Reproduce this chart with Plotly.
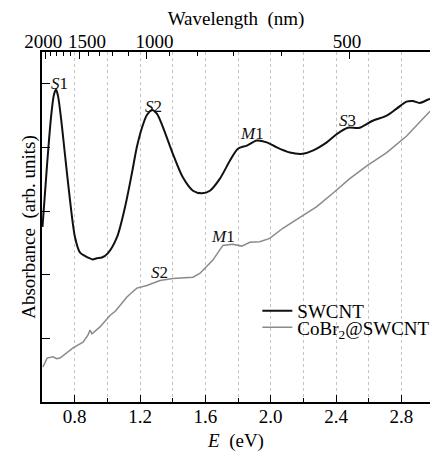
import plotly.graph_objects as go

# SWCNT (black) absorbance vs photon energy (eV)
swcnt_E = [0.603, 0.631, 0.655, 0.673, 0.686, 0.698, 0.716, 0.741, 0.771, 0.802, 0.832, 0.881,
           0.910, 0.936, 0.967, 1.004, 1.059, 1.108, 1.150, 1.181, 1.212, 1.242, 1.273,
           1.303, 1.340, 1.401, 1.462, 1.524, 1.579, 1.628, 1.689, 1.750, 1.799, 1.854,
           1.915, 1.976, 2.037, 2.117, 2.196, 2.257, 2.343, 2.410, 2.472, 2.545, 2.624,
           2.710, 2.771, 2.832, 2.869, 2.912, 2.961, 2.975]
swcnt_A = [2.75, 3.73, 4.47, 4.83, 4.91, 4.81, 4.47, 3.88, 3.18, 2.59, 2.35, 2.27,
           2.24, 2.26, 2.27, 2.34, 2.59, 3.06, 3.59, 4.01, 4.31, 4.51, 4.59,
           4.53, 4.32, 3.90, 3.53, 3.32, 3.28, 3.32, 3.51, 3.79, 3.98, 4.03,
           4.11, 4.08, 4.00, 3.92, 3.90, 3.95, 4.08, 4.22, 4.31, 4.31, 4.42,
           4.50, 4.61, 4.72, 4.73, 4.70, 4.75, 4.76]

# CoBr2@SWCNT (gray)
cobr_E = [0.606, 0.631, 0.667, 0.690, 0.710, 0.753, 0.790, 0.851, 0.881, 0.894, 0.906, 0.955,
          1.016, 1.050, 1.077, 1.120, 1.150, 1.181, 1.242, 1.322, 1.401, 1.524, 1.566,
          1.646, 1.707, 1.768, 1.823, 1.872, 1.933, 1.994, 2.074, 2.178, 2.282,
          2.380, 2.484, 2.588, 2.710, 2.832, 2.912, 2.975]
cobr_A = [0.55, 0.69, 0.71, 0.68, 0.69, 0.77, 0.85, 0.94, 1.05, 1.13, 1.07, 1.18,
          1.36, 1.43, 1.52, 1.65, 1.72, 1.79, 1.83, 1.91, 1.94, 1.96, 2.02,
          2.23, 2.46, 2.48, 2.45, 2.51, 2.52, 2.57, 2.73, 2.90, 3.07,
          3.28, 3.51, 3.71, 3.92, 4.18, 4.39, 4.57]

# Peak labels
label_text = ["<i>S</i>1", "<i>S</i>2", "<i>M</i>1", "<i>S</i>3", "<i>S</i>2", "<i>M</i>1"]
label_E = [0.71, 1.285, 1.884, 2.47, 1.322, 1.707]
label_A = [5.00, 4.64, 4.22, 4.42, 2.04, 2.60]

# Wavelength axis (nm); labels split in two groups for label placement
wl_major_a = [2000, 500]
wl_major_b = [1500, 1000]
wl_minor = [1900, 1800, 1700, 1600, 1400, 1300, 1200, 1100, 900, 800, 700, 600, 400]
HC = 1239.84

bottom_ticks = [0.8, 1.2, 1.6, 2.0, 2.4, 2.8]
y_ticks = [1, 2, 3, 4, 5]

XR = [0.6, 2.975]
YR = [0, 5.5]
FONT = "Liberation Serif"
FS = 19

fig = go.Figure()
fig.add_trace(go.Scatter(x=swcnt_E, y=swcnt_A, mode="lines", name="SWCNT", legend="legend",
                         line=dict(color="#111111", width=2, shape="spline", smoothing=0.8)))
fig.add_trace(go.Scatter(x=cobr_E, y=cobr_A, mode="lines", name="CoBr<sub>2</sub>@SWCNT",
                         legend="legend2", line=dict(color="#8a8a8a", width=1.5)))
# empty traces to anchor top axes
for ax in ["x2", "x3", "x4"]:
    fig.add_trace(go.Scatter(x=[None], y=[None], xaxis=ax, showlegend=False))

for t, e, a in zip(label_text, label_E, label_A):
    fig.add_annotation(x=e, y=a, text=t, showarrow=False,
                       font=dict(family=FONT, size=17, color="#111"))

leg_common = dict(xanchor="left", yanchor="middle", bgcolor="rgba(0,0,0,0)",
                  font=dict(family=FONT, size=FS, color="black"), itemwidth=30)

top_common = dict(range=XR, overlaying="x", side="top", anchor="y", tickmode="array",
                  tickangle=0, ticklabelstandoff=-5, tickfont=dict(family=FONT, size=FS),
                  ticks="inside", ticklen=7, tickwidth=1.3, tickcolor="black",
                  showline=True, linecolor="black", linewidth=1.5,
                  showgrid=False, zeroline=False)

fig.update_layout(
    width=430, height=452,
    margin=dict(l=42, r=0, t=52, b=50, autoexpand=False),
    paper_bgcolor="white", plot_bgcolor="white",
    font=dict(family=FONT, size=FS, color="black"),
    showlegend=True,
    legend=dict(x=0.555, y=0.26, **leg_common),
    legend2=dict(x=0.555, y=0.213, **leg_common),
    xaxis=dict(range=XR, tickmode="array", tickvals=bottom_ticks,
               ticktext=[f"{v:.1f}" for v in bottom_ticks],
               tickfont=dict(family=FONT, size=FS), ticklabelstandoff=-4,
               ticks="inside", ticklen=7, tickwidth=1.3, tickcolor="black",
               showline=True, linecolor="black", linewidth=1.5,
               showgrid=True, gridcolor="#c4c4c4", griddash="dot", gridwidth=1,
               minor=dict(dtick=0.2, tick0=0.6, ticks="inside", ticklen=4, tickcolor="black",
                          showgrid=True, gridcolor="#c4c4c4", griddash="dot"),
               zeroline=False,
               title=dict(text="<i>E</i>  (eV)", standoff=9, font=dict(family=FONT, size=FS))),
    xaxis2=dict(tickvals=[HC / w for w in wl_major_a], ticktext=[str(w) for w in wl_major_a],
                ticklabelshift=-2,
                title=dict(text="Wavelength  (nm)", standoff=0, font=dict(family=FONT, size=FS)),
                **top_common),
    xaxis4=dict(tickvals=[HC / w for w in wl_major_b], ticktext=[str(w) for w in wl_major_b],
                ticklabelshift=8, **top_common),
    xaxis3=dict(range=XR, overlaying="x", side="top", anchor="y",
                tickmode="array", tickvals=[HC / w for w in wl_minor],
                ticks="inside", ticklen=4, tickwidth=1, tickcolor="black",
                showline=False, showgrid=False, zeroline=False, showticklabels=False),
    yaxis=dict(range=YR, tickmode="array", tickvals=y_ticks, showticklabels=False,
               ticks="inside", ticklen=8, tickwidth=1.3, tickcolor="black",
               showline=True, linecolor="black", linewidth=1.5,
               showgrid=False, zeroline=False,
               title=dict(text="Absorbance  (arb. units)", standoff=0,
                          font=dict(family=FONT, size=FS))),
)

fig.write_html("out.html")
